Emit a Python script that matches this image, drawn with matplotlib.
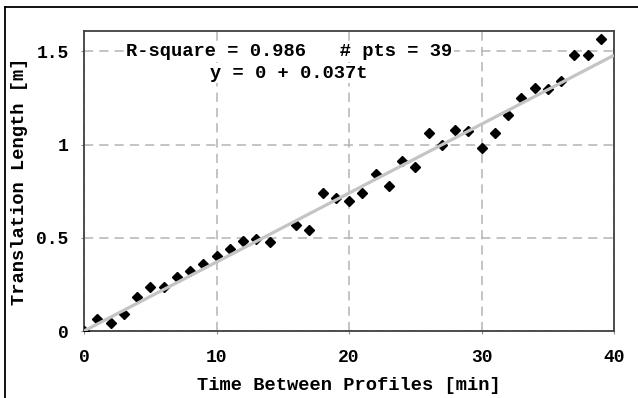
import matplotlib
matplotlib.use('Agg')
import matplotlib.pyplot as plt
from matplotlib.lines import Line2D
import numpy as np

# data
time_min = [0, 1, 2, 3, 4, 5, 6, 7, 8, 9, 10, 11, 12, 13, 14,
            16, 17, 18, 19, 20, 21, 22, 23, 24, 25, 26, 27, 28, 29, 30,
            31, 32, 33, 34, 35, 36, 37, 38, 39]
length_m = [0.0, 0.065, 0.045, 0.09, 0.18, 0.235, 0.235, 0.29, 0.32, 0.36, 0.405, 0.44, 0.485, 0.495, 0.48,
            0.57, 0.54, 0.74, 0.715, 0.70, 0.74, 0.84, 0.78, 0.91, 0.88, 1.06, 1.0, 1.08, 1.075, 0.98,
            1.065, 1.16, 1.25, 1.305, 1.30, 1.34, 1.48, 1.48, 1.565]
fit_intercept = 0.0
fit_slope = 0.037
r_square = 0.986
x_ticks = [0, 10, 20, 30, 40]
y_ticks = [0, 0.5, 1, 1.5]

mono = 'Liberation Mono'

fig = plt.figure(figsize=(6.38, 3.98), dpi=100)
ax = fig.add_axes([84/638, 1-331/398, 530/638, 300/398])

fit_t = np.array([0, 40])
ax.plot(time_min, length_m, 'D', color='black', ms=5.3, zorder=3)
ax.plot(fit_t, fit_intercept + fit_slope*fit_t, color='#c4c4c4', lw=2.3, zorder=4,
        solid_capstyle='butt')

ax.set_xlim(0, 40)
ax.set_ylim(0, 1.61)
ax.set_xticks(x_ticks)
ax.set_yticks(y_ticks)
ax.set_yticklabels(['0', '0.5', '1', '1.5'])
ax.grid(True, color='#b4b4b4', linestyle=(0, (6, 4)), lw=1.1)
ax.set_axisbelow(True)

for s in ax.spines.values():
    s.set_color('#404040')
    s.set_linewidth(1.3)
ax.tick_params(length=2, color='#909090', labelsize=13)
ax.tick_params(axis='x', pad=11)
ax.tick_params(axis='y', pad=9)
for lbl in ax.get_xticklabels() + ax.get_yticklabels():
    lbl.set_fontfamily(mono)
    lbl.set_fontweight('bold')

ax.set_xlabel('Time Between Profiles [min]', fontfamily=mono, fontweight='bold',
              fontsize=13.5, labelpad=8)
ax.set_ylabel('Translation Length [m]', fontfamily=mono, fontweight='bold',
              fontsize=13.5, labelpad=6)

ax.text(0.387, 0.933, 'R-square = %.3f   # pts = %d' % (r_square, len(time_min)),
        transform=ax.transAxes, ha='center', va='center', fontfamily=mono,
        fontweight='bold', fontsize=13.5,
        bbox=dict(facecolor='white', edgecolor='none', pad=1))
ax.text(0.387, 0.86, 'y = %g + %.3ft' % (fit_intercept, fit_slope),
        transform=ax.transAxes, ha='center', va='center', fontfamily=mono,
        fontweight='bold', fontsize=13.5,
        bbox=dict(facecolor='white', edgecolor='none', pad=1))

# partial frame round the figure (top and left)
fig.add_artist(Line2D([5/638, 5/638], [0, 1-7/398], color='black', lw=1.3))
fig.add_artist(Line2D([5/638, 1], [1-7/398, 1-7/398], color='black', lw=1.3))

plt.savefig('out.png', dpi=100)
